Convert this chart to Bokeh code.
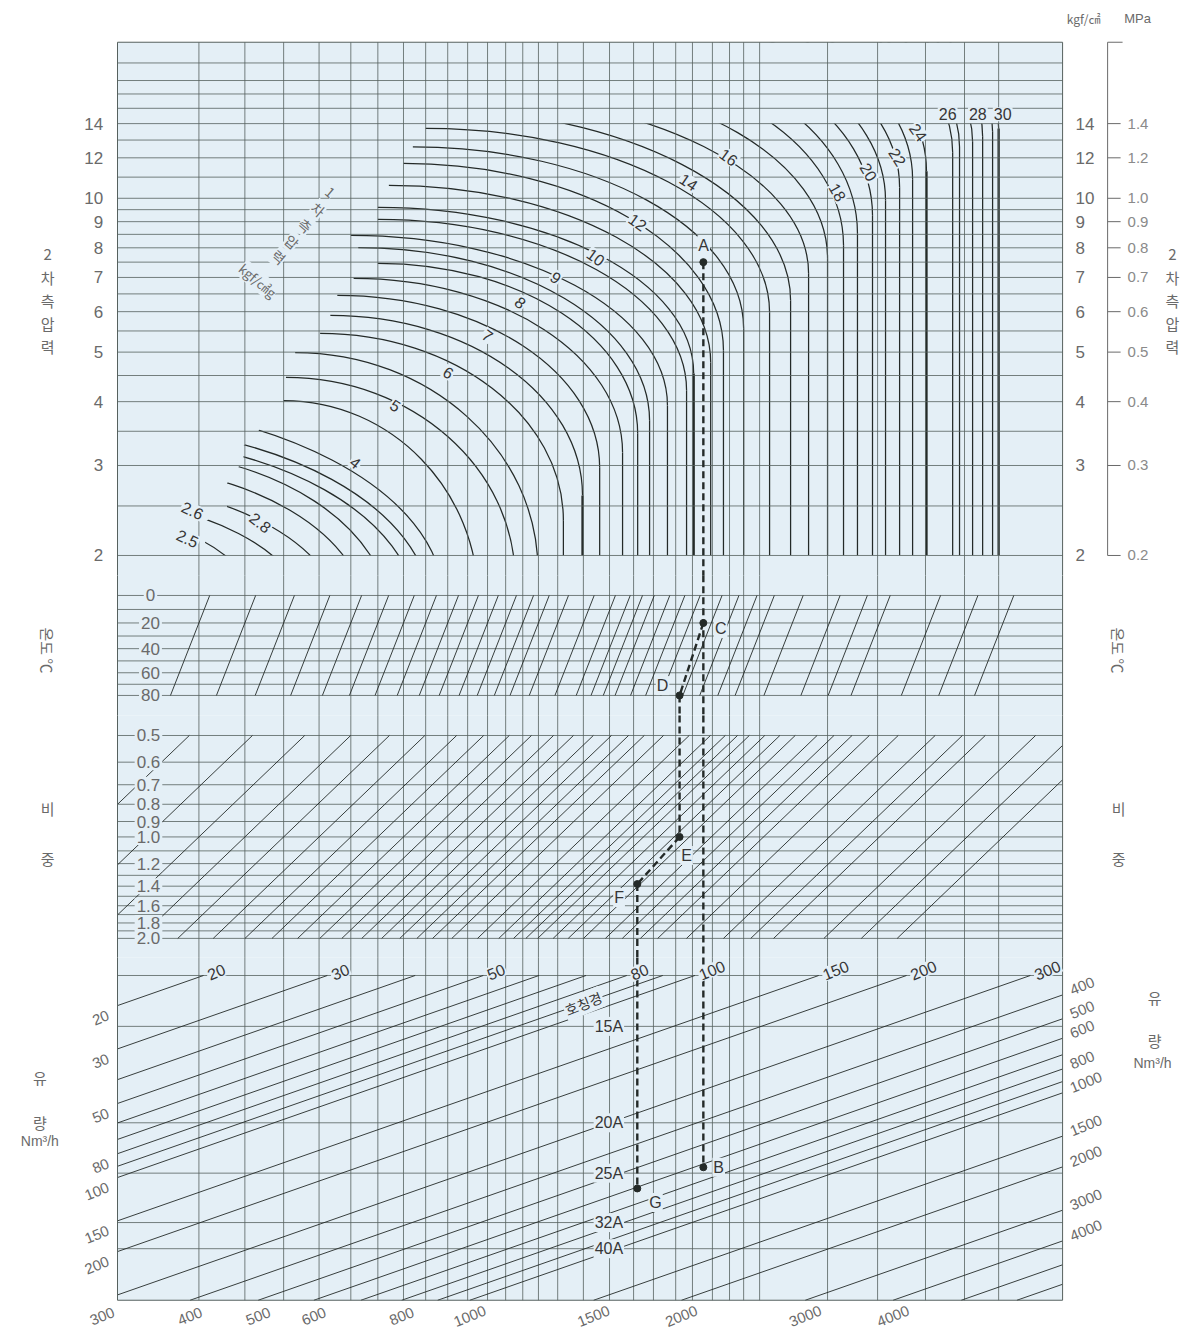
import math
from bokeh.plotting import figure
from bokeh.models import Range1d, LogScale
from bokeh.core.properties import value
from bokeh.embed import file_html
from bokeh.resources import INLINE

# ------------------------------------------------------------------ data
# x : unlabelled reference flow scale (log);  y : one scale per panel
Q_LEFT, Q_RIGHT = 15.09, 333.4          # chart edges on the flow scale
P_TOP = 20.2                            # 2nd-side pressure at the top edge (kgf/cm2)
F_BOTTOM = 20.9                         # valve size factor at the bottom edge
GAP_P, GAP_K1 = 1.83, 259.4             # split inside blank band 1
GAP_K2, GAP_SG1 = 371.8, 0.436          # split inside blank band 2
GAP_SG2, GAP_F = 2.28, 0.845            # split inside blank band 3

grid_q = [19.7, 22.9, 26.0, 29.2, 32.4, 35.4, 38.5, 41.4, 44.5, 47.5, 50.7, 53.8,
          56.9, 59.9, 63.8, 69.4, 75.6, 81.8, 87.3, 93.9, 99.2, 105.9, 112.0,
          117.3, 123.6, 154.4, 181.9, 212.8, 241.8, 270.4]

p2_lines = [2, 2.5, 3, 3.5, 4, 4.5, 5, 5.5, 6, 6.5, 7, 7.5, 8, 8.5, 9, 9.5, 10,
            11, 12, 13, 14, 15, 16, 17, 18.4]
p2_ticks = [2, 3, 4, 5, 6, 7, 8, 9, 10, 12, 14]
mpa_ticks = ["0.2", "0.3", "0.4", "0.5", "0.6", "0.7", "0.8", "0.9", "1.0", "1.2", "1.4"]

# primary-pressure curves: start point, vertical (critical) position, knee pressure
curve_p1 = [2.5, 2.6, 2.8, 3.0, 3.2, 3.4, 3.6, 4.0,
            4.5, 5, 5.5, 6, 6.5, 7, 7.5, 8, 8.5, 9, 9.5, 10, 11, 12, 13, 14,
            15, 16, 17, 18, 19, 20, 21, 22, 23, 24, 25, 26, 27, 28, 29, 30]
curve_start_q = [11.5, 12.9, 13.0, 14.6, 15.7, 14.3, 13.9, 12.6,
                 26.0, 26.2, 27.0, 29.3, 30.3, 31.0, 32.7, 35.4, 33.2, 32.4, 35.4, 35.4,
                 36.7, 38.5, 39.7, 41.4,
                 40.7, 44.9, 56.5, 68.8, 75.9, 81.0, 85.1, 89.4, 92.3, 109.5, 133.9,
                 136.5, 145.1, 162.7, 166.5, 177.8]
curve_start_p = [2.5, 2.6, 2.8, 3.0, 3.2, 3.4, 3.6, 4.0,
                 4.02, 4.46, 4.99, 5.44, 5.90, 6.46, 6.97, 7.46, 8.01, 8.46, 9.09, 9.60,
                 10.6, 11.7, 12.6, 13.7,
                 15, 16, 17, 18, 19, 20, 21, 22, 23, 22.5, 22.5, 22.5, 22.5, 22.5, 22.5, 22.5]
curve_vert_q = [23.4, 28.2, 31.4, 34.2, 36.9, 40.2, 42.1, 43.9,
                49.2, 55.5, 59.8, 65.0, 69.2, 73.2, 78.9, 82.9, 86.2, 91.4, 97.3, 99.6,
                105.3, 109.8, 117.3, 127.7,
                136.8, 145.1, 154.4, 162.7, 170.3, 178.9, 186.7, 195.5, 204.0, 213.5,
                232.6, 237.9, 248.3, 256.6, 265.1, 270.4]
curve_knee_p = [1.63, 1.49, 1.49, 1.49, 1.49, 1.53, 1.56, 1.63,
                1.63, 1.79, 1.87, 2.34, 2.62, 2.97, 3.18, 3.47, 3.67, 3.93, 4.21, 4.54,
                4.77, 5.04, 5.56, 5.98,
                6.31, 7.13, 7.63, 8.09, 8.54, 9.26, 9.90, 10.5, 10.9, 11.3, 12.3,
                12.6, 12.9, 13.2, 13.5, 13.7]
bold_p1 = [6.5, 10, 24, 30]

curve_label_text = ["2.5", "2.6", "2.8", "4", "5", "6", "7", "8", "9", "10", "12", "14",
                    "16", "18", "20", "22", "24", "26", "28", "30"]
curve_label_q = [18.98, 19.3, 24.1, 32.9, 37.5, 44.6, 50.7, 56.5, 63.4, 72.3, 82.9, 98.0,
                 111.7, 159.6, 176.7, 194.2, 207.9, 228.8, 252.6, 274.0]
curve_label_p = [2.16, 2.45, 2.32, 3.04, 3.93, 4.56, 5.39, 6.25, 7.0, 7.67, 8.98, 10.76,
                 12.04, 10.28, 11.26, 12.04, 13.46, 14.6, 14.6, 14.6]
curve_label_angle = [-25, -25, -38, -38, -32, -32, -36, -40, -36, -36, -36, -34,
                     -36, -60, -60, -58, -55, 0, 0, 0]

# cut-off region at the lower left of the pressure panel
cut_q = [Q_LEFT, 25.8, 23.95, 22.8, 22.8, 22.4, 21.6, 21.6, 20.2, 20.1, 20.1, Q_LEFT]
cut_p = [4.11, 4.11, 3.51, 3.28, 3.11, 2.97, 2.77, 2.49, 2.34, 2.11, 1.9, 1.9]

temp_lines = [0, 10, 20, 30, 40, 50, 60, 70, 80]
temp_ticks = [0, 20, 40, 60, 80]
temp_diag_q = [19.7, 22.9, 26.0, 29.2, 32.4, 35.4, 38.5, 41.4, 44.5, 47.5, 50.7, 53.8,
               56.9, 59.9, 63.8, 69.4, 74.4, 78.1, 81.3, 84.5, 88.9, 93.4, 98.2, 105.5,
               111.5, 118.3, 125.2, 137.6, 155.3, 169.8, 183.0, 215.8, 243.9, 274.3]

sg_lines = [0.5, 0.6, 0.7, 0.8, 0.9, 1.0, 1.1, 1.2, 1.3, 1.4, 1.5, 1.6, 1.7, 1.8, 1.9, 2.0]
sg_ticks = [0.5, 0.6, 0.7, 0.8, 0.9, 1.0, 1.2, 1.4, 1.6, 1.8, 2.0]
sg_tick_text = ["0.5", "0.6", "0.7", "0.8", "0.9", "1.0", "1.2", "1.4", "1.6", "1.8", "2.0"]
sg_diag_q = [13.5, 16.6] + temp_diag_q

size_labels = ["15A", "20A", "25A", "32A", "40A"]
size_f = [1.61, 3.97, 6.36, 10.1, 12.9]
flow_q = [20, 30, 40, 50, 60, 70, 80, 90, 100, 150, 200, 300, 400, 500, 600, 700, 800,
          900, 1000, 1500, 2000, 3000, 4000, 5000, 6000]
flow_top_labels = [20, 30, 50, 80, 100, 150, 200, 300]
flow_left_labels = [20, 30, 50, 80, 100, 150, 200]
flow_right_labels = [400, 500, 600, 800, 1000, 1500, 2000, 3000, 4000]
flow_bottom_labels = [300, 400, 500, 600, 800, 1000, 1500, 2000, 3000, 4000]

# worked example route
Q_AB, Q_DE, Q_FG = 102.8, 95.1, 82.8
A_P, C_T, D_T, E_SG, F_SG, G_F, B_F = 7.5, 20, 80, 1.0, 1.38, 7.34, 6.02

# ------------------------------------------------------------------ style
BG = "#e4eff6"
GRID = "#56615e"
INK = "#242a28"
TXT = "#363636"
SOFT = "#6a6a6a"
NARROW = "Liberation Sans Narrow, Liberation Sans, sans-serif"
KR = "Noto Sans CJK KR"
K0 = 273.15

X_MIN, X_MAX = 10.286, 506.9
W, H = 1190, 1335
p = figure(width=W, height=H, output_backend="svg", toolbar_location=None,
           x_axis_type="log", y_axis_type="log",
           x_range=Range1d(X_MIN, X_MAX), y_range=Range1d(0.05952, 24.38),
           x_axis_location=None, y_axis_location=None, min_border=0, title=None)
p.extra_y_ranges = {"K": Range1d(1828.3, 59.24), "SG": Range1d(30.16, 0.003296),
                    "F": Range1d(29.07, 1.0879e-4)}
p.extra_y_scales = {"K": LogScale(), "SG": LogScale(), "F": LogScale()}
p.outline_line_color = None
p.grid.visible = False
p.background_fill_color = "white"
p.border_fill_color = "white"

PANELS = [("default", GAP_P, P_TOP), ("K", GAP_K1, GAP_K2),
          ("SG", GAP_SG1, GAP_SG2), ("F", GAP_F, F_BOTTOM)]


def label(xs, ys, texts, r="default", size="15px", angle=0, align="center",
          baseline="middle", color=TXT, font=NARROW, box=False, pad=2):
    n = len(texts)
    ang = angle if isinstance(angle, list) else [angle] * n
    kw = dict(x=list(xs), y=list(ys), text=list(texts), text_font=value(font),
              text_font_size=size, text_color=color, text_align=align,
              text_baseline=baseline, angle=ang, angle_units="deg", y_range_name=r)
    if box:
        kw.update(background_fill_color=BG, padding=pad)
    p.text(**kw)


def hlines(vals, r, color=GRID, width=0.8):
    n = len(vals)
    p.segment(x0=[Q_LEFT] * n, y0=vals, x1=[Q_RIGHT] * n, y1=vals,
              line_color=color, line_width=width, y_range_name=r)


def vlines(qs, color=GRID, width=0.8):
    n = len(qs)
    for r, lo, hi in PANELS:
        p.segment(x0=qs, y0=[lo] * n, x1=qs, y1=[hi] * n,
                  line_color=color, line_width=width, y_range_name=r)


# panel backgrounds
for r, lo, hi in PANELS:
    p.quad(left=[Q_LEFT], right=[Q_RIGHT], bottom=[lo], top=[hi],
           fill_color=BG, line_color=None, y_range_name=r)

# ---- primary pressure curves (quarter arcs + vertical parts)
KAPPA = 0.5523
lg = math.log10
bx0, by0, bx1, by1, cx0, cy0, cx1, cy1 = [], [], [], [], [], [], [], []
vx, vy0, vy1, vw = [], [], [], []
for p1, qs, ps, qk, pk in zip(curve_p1, curve_start_q, curve_start_p, curve_vert_q, curve_knee_p):
    bx0.append(qs); by0.append(ps); bx1.append(qk); by1.append(pk)
    cx0.append(10 ** (lg(qs) + KAPPA * (lg(qk) - lg(qs)))); cy0.append(ps)
    cx1.append(qk); cy1.append(10 ** (lg(pk) + KAPPA * (lg(ps) - lg(pk))))
    if pk > 2:
        vx.append(qk); vy0.append(pk); vy1.append(2)
        vw.append(2.3 if p1 in bold_p1 else 1.25)
p.bezier(x0=bx0, y0=by0, x1=bx1, y1=by1, cx0=cx0, cy0=cy0, cx1=cx1, cy1=cy1,
         line_color=INK, line_width=1.25)
p.segment(x0=vx, y0=vy0, x1=vx, y1=vy1, line_color=INK, line_width=vw)

# trim the curve family to the panel
p.quad(left=[Q_LEFT], right=[Q_RIGHT], bottom=[14], top=[P_TOP], fill_color=BG, line_color=None)
p.quad(left=[Q_LEFT], right=[Q_RIGHT], bottom=[1.3], top=[2], fill_color=BG, line_color=None)
p.patch(x=cut_q, y=cut_p, fill_color=BG, line_color=None)
p.quad(left=[X_MIN], right=[X_MAX], bottom=[P_TOP], top=[1000], fill_color="white", line_color=None)
p.quad(left=[X_MIN], right=[Q_LEFT], bottom=[0.05952], top=[1000], fill_color="white", line_color=None)
p.quad(left=[Q_RIGHT], right=[X_MAX], bottom=[0.05952], top=[1000], fill_color="white", line_color=None)

# ---- grid
vlines(grid_q)
hlines(p2_lines, "default")
hlines([t + K0 for t in temp_lines], "K")
hlines(sg_lines, "SG")
hlines([1.0] + size_f, "F")

# temperature guide lines
n = len(temp_diag_q)
p.segment(x0=[q * math.sqrt((20 + K0) / K0) for q in temp_diag_q], y0=[K0] * n,
          x1=[q * math.sqrt((20 + K0) / (80 + K0)) for q in temp_diag_q], y1=[80 + K0] * n,
          line_color=INK, line_width=0.9, y_range_name="K")

# specific gravity guide lines
sx0, sy0, sx1, sy1 = [], [], [], []
for q in sg_diag_q:
    lo = max(0.5, (q / Q_RIGHT) ** 2)
    hi = min(2.0, (q / Q_LEFT) ** 2)
    if lo < hi:
        sx0.append(q / math.sqrt(lo)); sy0.append(lo)
        sx1.append(q / math.sqrt(hi)); sy1.append(hi)
p.segment(x0=sx0, y0=sy0, x1=sx1, y1=sy1, line_color=INK, line_width=0.9, y_range_name="SG")

# flow lines
fx0, fy0, fx1, fy1 = [], [], [], []
for q in flow_q:
    lo = max(1.0, q / Q_RIGHT)
    hi = min(F_BOTTOM, q / Q_LEFT)
    if lo < hi:
        fx0.append(q / lo); fy0.append(lo); fx1.append(q / hi); fy1.append(hi)
p.segment(x0=fx0, y0=fy0, x1=fx1, y1=fy1, line_color=INK, line_width=0.9, y_range_name="F")

# ---- worked example (dashed route)
DASH = dict(line_color=INK, line_width=2.4, line_dash="7 4")
p.segment(x0=[Q_AB], y0=[A_P], x1=[Q_AB], y1=[GAP_P], **DASH)
p.segment(x0=[Q_AB, Q_AB, Q_DE], y0=[GAP_K1, C_T + K0, D_T + K0],
          x1=[Q_AB, Q_DE, Q_DE], y1=[GAP_K2, D_T + K0, GAP_K2], y_range_name="K", **DASH)
p.segment(x0=[Q_AB, Q_DE, Q_DE, Q_FG], y0=[GAP_SG1, GAP_SG1, E_SG, F_SG],
          x1=[Q_AB, Q_DE, Q_FG, Q_FG], y1=[GAP_SG2, E_SG, F_SG, GAP_SG2], y_range_name="SG", **DASH)
p.segment(x0=[Q_AB, Q_FG], y0=[GAP_F, GAP_F], x1=[Q_AB, Q_FG], y1=[B_F, G_F], y_range_name="F", **DASH)
p.scatter(x=[Q_AB], y=[A_P], size=7, color=INK)
p.scatter(x=[Q_AB, Q_DE], y=[C_T + K0, D_T + K0], size=7, color=INK, y_range_name="K")
p.scatter(x=[Q_DE, Q_FG], y=[E_SG, F_SG], size=7, color=INK, y_range_name="SG")
p.scatter(x=[Q_AB, Q_FG], y=[B_F, G_F], size=7, color=INK, y_range_name="F")

# ---- chart border
vlines([Q_LEFT, Q_RIGHT], color=GRID, width=1.0)
hlines([P_TOP], "default", width=1.0)
hlines([F_BOTTOM], "F", width=1.0)

# ---- texts
# pressure scales
label([14.4] * len(p2_ticks), p2_ticks, [str(v) for v in p2_ticks], align="right", size="17px", color=SOFT)
label([347.9] * len(p2_ticks), p2_ticks, [str(v) for v in p2_ticks], align="left", size="17px", color=SOFT)
p.segment(x0=[386.4], y0=[2], x1=[386.4], y1=[P_TOP], line_color=SOFT, line_width=1)
p.segment(x0=[386.4] * (len(p2_ticks) + 1), y0=p2_ticks + [P_TOP],
          x1=[403.2] * len(p2_ticks) + [405.8], y1=p2_ticks + [P_TOP], line_color=SOFT, line_width=1)
label([412.5] * len(mpa_ticks), p2_ticks, mpa_ticks, align="left", size="15px", color="#8a8a8a")
label([357.2], [22.48], ["kgf/㎠"], font=KR, size="12px", color=SOFT)
label([426.3], [22.48], ["MPa"], size="13px", color=SOFT)

# curve labels
label(curve_label_q, curve_label_p, curve_label_text, size="16px", angle=curve_label_angle,
      color=TXT, box=True, pad=1)
label([30.3, 29.1, 27.9, 26.7, 25.6], [10.28, 9.51, 8.84, 8.22, 7.67],
      ["1", "차", "측", "압", "력"], font=KR, size="14px", angle=-40, color=SOFT, box=True, pad=0)
label([23.9], [6.90], ["kgf/㎠g"], font=KR, size="13px", angle=-40, color=SOFT, box=True, pad=0)

# axis titles
for qx in (12.0, 477.8):
    label([qx] * 5, [7.76, 7.00, 6.30, 5.69, 5.13], ["2", "차", "측", "압", "력"],
          font=KR, size="15px", color=SOFT)
for qx in (12.0, 400.6):
    label([qx], [314.6], ["온도 ℃"], r="K", font=KR, size="15px", angle=-90, color=SOFT)
    label([qx, qx], [0.823, 1.16], ["비", "중"], r="SG", font=KR, size="15px", color=SOFT)
label([11.7, 11.7], [2.598, 3.96], ["유", "량"], r="F", font=KR, size="15px", color=SOFT)
label([11.7], [4.69], ["Nm³/h"], r="F", size="14px", color=SOFT)
label([450.6, 450.6], [1.229, 1.838], ["유", "량"], r="F", font=KR, size="15px", color=SOFT)
label([447.6], [2.279], ["Nm³/h"], r="F", size="14px", color=SOFT)

# temperature / specific gravity scales
label([16.81] * len(temp_ticks), [t + K0 for t in temp_ticks], [str(t) for t in temp_ticks],
      r="K", size="17px", color=SOFT, box=True, pad=2)
label([16.70] * len(sg_ticks), sg_ticks, sg_tick_text, r="SG", size="17px", color=SOFT, box=True, pad=2)

# flow labels
label([q * 1.012 for q in flow_top_labels], [1.0] * len(flow_top_labels),
      [str(q) for q in flow_top_labels], r="F", size="16px", angle=22, align="left", box=True, pad=1)
label([14.65] * len(flow_left_labels), [q / Q_LEFT * 1.09 for q in flow_left_labels],
      [str(q) for q in flow_left_labels], r="F", size="15px", angle=22, align="right", color=SOFT)
label([342.2] * len(flow_right_labels), [q / Q_RIGHT / 1.04 for q in flow_right_labels],
      [str(q) for q in flow_right_labels], r="F", size="15px", angle=22, align="left", color=SOFT)
label([q / F_BOTTOM for q in flow_bottom_labels], [24.3] * len(flow_bottom_labels),
      [str(q) for q in flow_bottom_labels], r="F", size="15px", angle=22, color=SOFT)
label([79.3] * len(size_labels), size_f, size_labels, r="F", size="16px", align="right",
      box=True, pad=1)
label([69.4], [1.30], ["호칭경"], r="F", font=KR, size="14px", angle=22, box=True, pad=1)

# route letters
label([102.9], [8.1], ["A"], size="16px", box=True, pad=1)
label([108.8], [297.4], ["C"], r="K", size="16px", box=True, pad=1)
label([89.95], [344.3], ["D"], r="K", size="16px", box=True, pad=1)
label([97.3], [1.135], ["E"], r="SG", size="16px", box=True, pad=1)
label([78.0], [1.513], ["F"], r="SG", size="16px", box=True, pad=1)
label([87.9, 108.1], [8.37, 6.02], ["G", "B"], r="F", size="16px", box=True, pad=1)

open("out.html", "w").write(file_html(p, INLINE))
